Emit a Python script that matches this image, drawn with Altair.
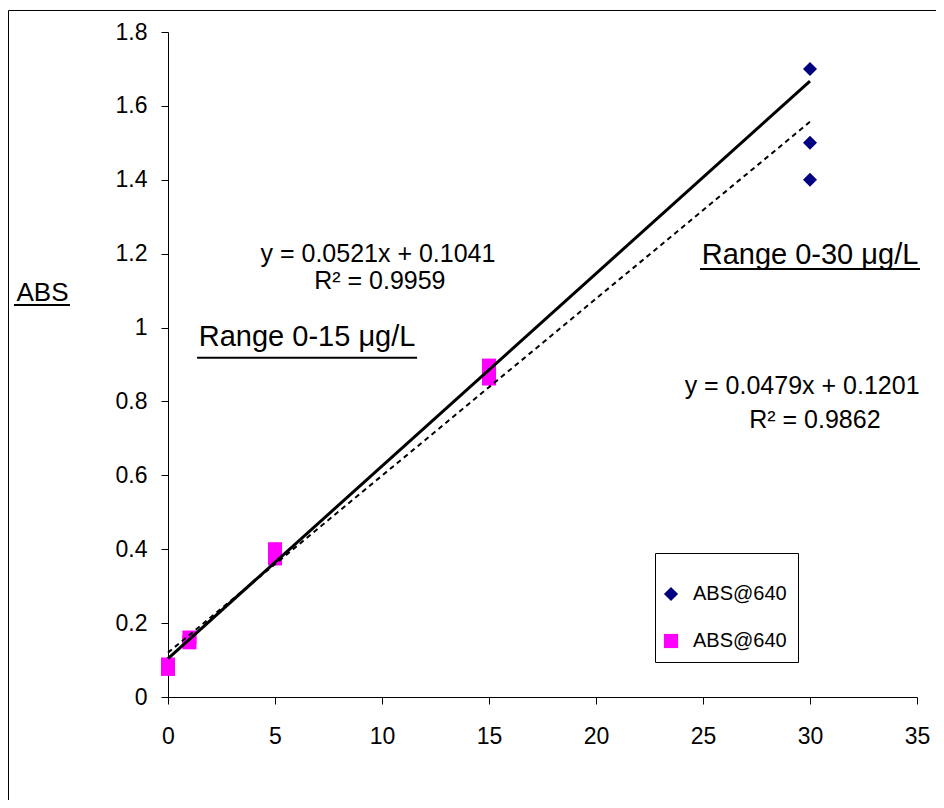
import altair as alt
import pandas as pd

# ---------------- data ----------------
series_names = ["ABS@640 (0-30)", "ABS@640 (0-15)"]
series_colors = ["#000080", "#FF00FF"]
series_shapes = ["diamond", "square"]

# range 0-30 ug/L (navy diamonds)
x_030 = [0, 0, 1, 1, 5, 5, 15, 15, 30, 30, 30]
y_030 = [0.076, 0.088, 0.148, 0.161, 0.375, 0.40, 0.862, 0.897, 1.70, 1.50, 1.40]
# range 0-15 ug/L (magenta squares)
x_015 = [0, 0, 1, 1, 5, 5, 15, 15]
y_015 = [0.076, 0.088, 0.148, 0.161, 0.375, 0.40, 0.862, 0.897]

# trendlines as printed on the chart
fit_slopes = [0.0521, 0.0479]
fit_intercepts = [0.1041, 0.1201]
fit_x_range = [0, 30]

x_ticks = [0, 5, 10, 15, 20, 25, 30, 35]
y_ticks = [0, 0.2, 0.4, 0.6, 0.8, 1, 1.2, 1.4, 1.6, 1.8]

eq_labels = ["y = 0.0521x + 0.1041", "R² = 0.9959", "y = 0.0479x + 0.1201", "R² = 0.9862"]
eq_x = [9.81, 9.9, 29.63, 30.23]
eq_y = [1.198, 1.125, 0.842, 0.750]

range_labels = ["Range 0-15 μg/L", "Range 0-30 μg/L"]
range_x = [6.5, 30.0]
range_y = [0.974, 1.196]
range_ul_x1 = [1.36, 24.86]
range_ul_x2 = [11.64, 35.14]
range_ul_y = [0.918, 1.1585]

FONT = "Liberation Sans"

# ---------------- tables ----------------
pts = pd.DataFrame({
    "series": [series_names[0]] * len(x_030) + [series_names[1]] * len(x_015),
    "x": x_030 + x_015,
    "y": y_030 + y_015,
})
fit1 = pd.DataFrame({"x": fit_x_range,
                     "y": [fit_slopes[0] * v + fit_intercepts[0] for v in fit_x_range]})
fit2 = pd.DataFrame({"x": fit_x_range,
                     "y": [fit_slopes[1] * v + fit_intercepts[1] for v in fit_x_range]})
eq_df = pd.DataFrame({"label": eq_labels, "x": eq_x, "y": eq_y})
rg_df = pd.DataFrame({"label": range_labels, "x": range_x, "y": range_y,
                      "x1": range_ul_x1, "x2": range_ul_x2, "uy": range_ul_y})

xs = alt.Scale(domain=[0, 35], nice=False, zero=False)
ys = alt.Scale(domain=[0, 1.8], nice=False, zero=False)

legend = alt.Legend(
    title=" ", titleFontSize=10, titlePadding=10,
    orient="none", legendX=487, legendY=521,
    labelExpr="'ABS@640'", labelFont=FONT, labelFontSize=20, labelColor="black",
    symbolSize=200, symbolStrokeWidth=0, symbolOffset=-5, labelOffset=12,
    padding=11, rowPadding=27, strokeColor="black", fillColor="white",
)

x_axis = alt.Axis(values=x_ticks, title=None, grid=False, tickSize=7,
                  labelPadding=21, labelFontSize=23, labelFont=FONT, labelFlush=False,
                  labelColor="black", domainColor="black", tickColor="black")
y_axis = alt.Axis(values=y_ticks, format="~g", grid=False, tickSize=7,
                  labelPadding=14, labelFontSize=23, labelFont=FONT, labelFlush=False,
                  labelColor="black", domainColor="black", tickColor="black",
                  title="ABS", titleAngle=0, titleX=-126, titleY=260,
                  titleAlign="center", titleBaseline="middle",
                  titleFontSize=26, titleFont=FONT, titleFontWeight="normal",
                  titleColor="black")

points = alt.Chart(pts).mark_point(filled=True, strokeWidth=0, opacity=1, size=196).encode(
    x=alt.X("x:Q", scale=xs, axis=x_axis),
    y=alt.Y("y:Q", scale=ys, axis=y_axis),
    color=alt.Color("series:N", scale=alt.Scale(domain=series_names, range=series_colors), legend=legend),
    shape=alt.Shape("series:N", scale=alt.Scale(domain=series_names, range=series_shapes), legend=legend),
)

line1 = alt.Chart(fit1).mark_line(color="black", strokeWidth=3).encode(
    x=alt.X("x:Q", scale=xs), y=alt.Y("y:Q", scale=ys))
line2 = alt.Chart(fit2).mark_line(color="black", strokeWidth=2, strokeDash=[5, 4]).encode(
    x=alt.X("x:Q", scale=xs), y=alt.Y("y:Q", scale=ys))

eq_text = alt.Chart(eq_df).mark_text(font=FONT, fontSize=25, color="black",
                                     align="center", baseline="middle").encode(
    x=alt.X("x:Q", scale=xs), y=alt.Y("y:Q", scale=ys), text="label:N")

rg_text = alt.Chart(rg_df).mark_text(font=FONT, fontSize=29, color="black",
                                     align="center", baseline="middle").encode(
    x=alt.X("x:Q", scale=xs), y=alt.Y("y:Q", scale=ys), text="label:N")
rg_ul = alt.Chart(rg_df).mark_rule(color="black", strokeWidth=2).encode(
    x=alt.X("x1:Q", scale=xs), x2="x2:Q", y=alt.Y("uy:Q", scale=ys))

deco = pd.DataFrame({"k": [0]})
abs_ul = alt.Chart(deco).mark_rule(color="black", strokeWidth=2).encode(
    x=alt.value(-154), x2=alt.value(-98), y=alt.value(273))
border = alt.Chart(deco).mark_rect(filled=False, stroke="black", strokeWidth=1).encode(
    x=alt.value(-159.5), x2=alt.value(1000), y=alt.value(-21.5), y2=alt.value(1000))

chart = alt.layer(border, points, line1, line2, eq_text, rg_text, rg_ul, abs_ul).properties(
    width=749, height=665,
    autosize=alt.AutoSizeParams(type="none"),
    padding={"left": 160, "top": 24, "right": 19, "bottom": 103},
    background="white",
).configure_view(stroke=None)

chart.save("out.html", embed_options={"renderer": "svg", "actions": False})
